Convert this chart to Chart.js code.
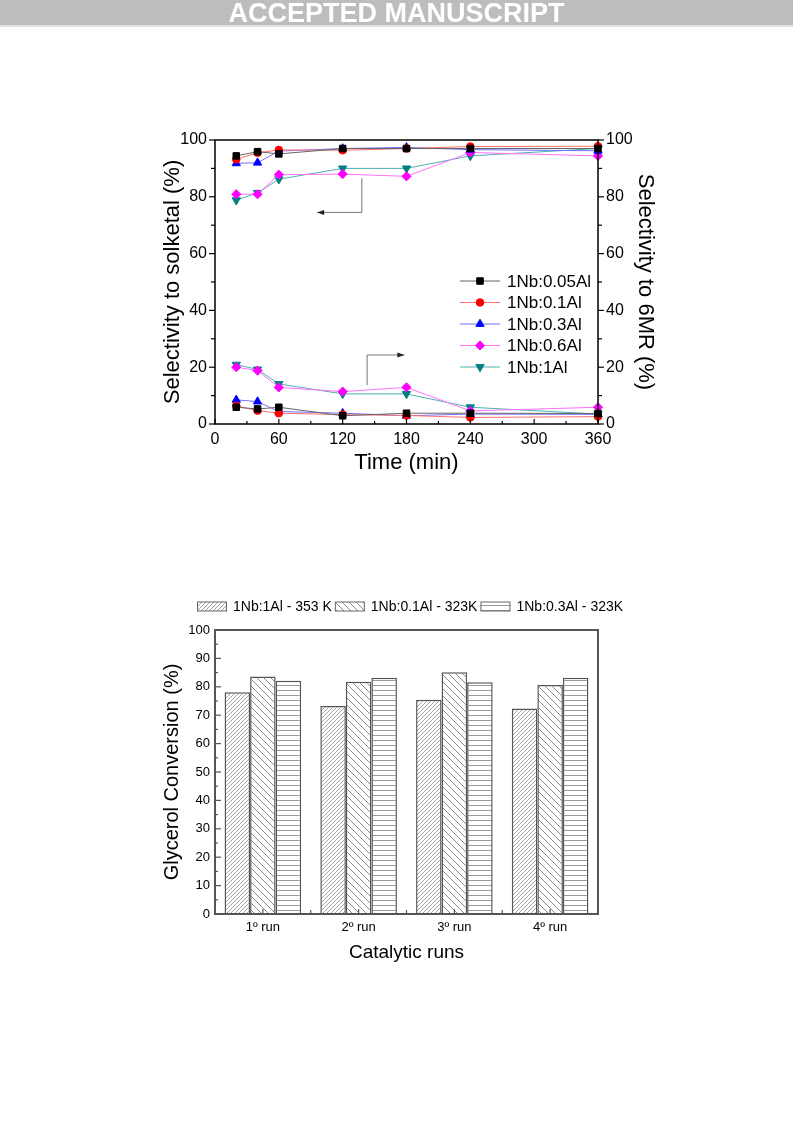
<!DOCTYPE html>
<html><head><meta charset="utf-8">
<script src="https://cdn.jsdelivr.net/npm/chart.js@4.4.1/dist/chart.umd.min.js"></script>
<style>
html,body{margin:0;padding:0;background:#fff;width:793px;height:1121px;overflow:hidden;}
#banner{position:absolute;left:0;top:0;width:793px;height:25px;background:#bdbdbd;border-bottom:2px solid #e2e2e2;text-align:center;font:bold 27px 'Liberation Sans',Arial,sans-serif;color:#fff;line-height:26px;z-index:5;}
#c1{position:absolute;left:0;top:0;}
#c2{position:absolute;left:0;top:540px;}
</style></head>
<body>
<div id="banner">ACCEPTED MANUSCRIPT</div>
<canvas id="c1" width="793" height="520"></canvas>
<canvas id="c2" width="793" height="460"></canvas>
<script>
// ---------- Data: top chart ----------
const times = [20, 40, 60, 120, 180, 240, 360];
const timeTicks = [0, 60, 120, 180, 240, 300, 360];
const selTicks = [0, 20, 40, 60, 80, 100];
const seriesNames = ['1Nb:0.05Al', '1Nb:0.1Al', '1Nb:0.3Al', '1Nb:0.6Al', '1Nb:1Al'];
// selectivity to solketal (left axis)
const solk_005 = [94.4, 95.9, 95.1, 97.0, 97.0, 97.0, 97.0];
const solk_01  = [93.2, 95.5, 96.5, 96.4, 97.0, 97.7, 97.8];
const solk_03  = [91.8, 92.0, 96.1, 97.0, 97.4, 96.6, 96.2];
const solk_06  = [80.9, 80.9, 87.8, 88.0, 87.2, 95.6, 94.4];
const solk_1   = [78.8, 81.4, 86.2, 90.0, 90.0, 94.4, 97.0];
// selectivity to 6MR (right axis)
const mr_005 = [5.9, 5.3, 5.9, 2.9, 3.8, 3.8, 3.7];
const mr_01  = [6.4, 4.7, 3.8, 3.3, 3.0, 2.3, 2.6];
const mr_03  = [8.5, 7.9, 4.4, 3.8, 2.9, 3.5, 3.4];
const mr_06  = [20.0, 18.8, 12.9, 11.4, 12.9, 4.6, 5.9];
const mr_1   = [20.9, 19.2, 14.1, 10.6, 10.6, 5.9, 3.5];

// ---------- Data: bottom chart ----------
const runs = ['1º run', '2º run', '3º run', '4º run'];
const convTicks = [0, 10, 20, 30, 40, 50, 60, 70, 80, 90, 100];
const barNames = ['1Nb:1Al - 353 K', '1Nb:0.1Al - 323K', '1Nb:0.3Al - 323K'];
const conv_1Al_353  = [78.1, 73.2, 75.4, 72.4];
const conv_01Al_323 = [83.6, 81.8, 85.1, 80.6];
const conv_03Al_323 = [82.1, 83.2, 81.6, 83.2];

// ---------- Styles ----------
const FONT = "'Liberation Sans', Arial, Helvetica, sans-serif";
Chart.defaults.font.family = FONT;
Chart.defaults.color = '#000';

const styles = [
  {mark:'#000000', line:'#666666', style:'rect', rot:0, r:4.6},
  {mark:'#ff0000', line:'#ff7070', style:'circle', rot:0, r:3.8},
  {mark:'#0000ff', line:'#7070ff', style:'triangle', rot:0, r:4.8},
  {mark:'#ff00ff', line:'#ff70ff', style:'rectRot', rot:0, r:4.6},
  {mark:'#008080', line:'#50b0b0', style:'triangle', rot:180, r:4.8}
];
const solkSeries = [solk_005, solk_01, solk_03, solk_06, solk_1];
const mrSeries = [mr_005, mr_01, mr_03, mr_06, mr_1];

function mkDataset(name, vals, st, axis) {
  return {
    label: name, yAxisID: axis,
    data: times.map((t, i) => ({x: t, y: vals[i]})),
    borderColor: st.line, borderWidth: 1,
    pointStyle: st.style, pointRotation: st.rot, pointRadius: st.r,
    pointBackgroundColor: st.mark, pointBorderColor: st.mark, pointBorderWidth: 1,
    tension: 0, clip: false
  };
}
const ds1 = [];
seriesNames.forEach((n, i) => ds1.push(mkDataset(n, solkSeries[i], styles[i], 'y')));
seriesNames.forEach((n, i) => ds1.push(mkDataset(n + ' 6MR', mrSeries[i], styles[i], 'y2')));

// annotation arrows (data units)
const arrows = [
  {axis: 'y',  pts: [[138, 86.5], [138, 74.5], [96, 74.5]]},
  {axis: 'y2', pts: [[143, 13.7], [143, 24.3], [178, 24.3]]}
];

function marker(ctx, style, rot, r, x, y, color) {
  ctx.save();
  ctx.fillStyle = color; ctx.strokeStyle = color; ctx.lineWidth = 1;
  ctx.beginPath();
  if (style === 'rect') {
    const s = r * Math.SQRT1_2; ctx.rect(x - s, y - s, 2 * s, 2 * s);
  } else if (style === 'circle') {
    ctx.arc(x, y, r, 0, Math.PI * 2);
  } else if (style === 'rectRot') {
    ctx.moveTo(x, y - r); ctx.lineTo(x + r, y); ctx.lineTo(x, y + r); ctx.lineTo(x - r, y); ctx.closePath();
  } else if (style === 'triangle') {
    let a = rot * Math.PI / 180;
    for (let k = 0; k < 3; k++) {
      const px = x + Math.sin(a) * r, py = y - Math.cos(a) * r;
      if (k === 0) ctx.moveTo(px, py); else ctx.lineTo(px, py);
      a += 2 * Math.PI / 3;
    }
    ctx.closePath();
  }
  ctx.fill(); ctx.stroke();
  ctx.restore();
}

function seg(ctx, x1, y1, x2, y2) { ctx.beginPath(); ctx.moveTo(x1, y1); ctx.lineTo(x2, y2); ctx.stroke(); }

const deco1 = {
  id: 'deco1',
  afterDraw(chart) {
    const {ctx, chartArea: a, scales} = chart;
    ctx.save();
    ctx.strokeStyle = '#000';
    ctx.lineWidth = 1.2;
    for (let v = 0; v <= 100; v += 10) {
      const y = scales.y.getPixelForValue(v);
      const L = v % 20 === 0 ? 6 : 4;
      seg(ctx, a.left - L, y, a.left, y);
      seg(ctx, a.right, y, a.right + L, y);
    }
    for (let t = 0; t <= 360; t += 30) {
      const x = scales.x.getPixelForValue(t);
      const L = t % 60 === 0 ? 5 : 3;
      seg(ctx, x, a.bottom, x, a.bottom - L);
    }
    ctx.lineWidth = 1.5;
    ctx.strokeRect(a.left, a.top, a.right - a.left, a.bottom - a.top);
    // arrows
    arrows.forEach(ar => {
      const p = ar.pts.map(q => [scales.x.getPixelForValue(q[0]), scales[ar.axis].getPixelForValue(q[1])]);
      ctx.strokeStyle = '#777'; ctx.lineWidth = 1;
      ctx.beginPath(); ctx.moveTo(p[0][0], p[0][1]);
      for (let k = 1; k < p.length; k++) ctx.lineTo(p[k][0], p[k][1]);
      ctx.stroke();
      const e = p[p.length - 1], s = p[p.length - 2];
      const ang = Math.atan2(e[1] - s[1], e[0] - s[0]);
      ctx.fillStyle = '#222';
      ctx.beginPath();
      ctx.moveTo(e[0], e[1]);
      ctx.lineTo(e[0] - 7 * Math.cos(ang) + 2.5 * Math.sin(ang), e[1] - 7 * Math.sin(ang) - 2.5 * Math.cos(ang));
      ctx.lineTo(e[0] - 7 * Math.cos(ang) - 2.5 * Math.sin(ang), e[1] - 7 * Math.sin(ang) + 2.5 * Math.cos(ang));
      ctx.closePath(); ctx.fill();
    });
    // legend
    const lx = a.left + 245, ly = a.top + 141, dy = 21.5;
    ctx.font = '17px ' + FONT; ctx.textBaseline = 'middle'; ctx.textAlign = 'left';
    seriesNames.forEach((n, i) => {
      const y = ly + i * dy, st = styles[i];
      ctx.strokeStyle = st.line; ctx.lineWidth = 1;
      seg(ctx, lx, y, lx + 40, y);
      marker(ctx, st.style, st.rot, st.r, lx + 20, y, st.mark);
      ctx.fillStyle = '#000';
      ctx.fillText(n, lx + 47, y + 1);
    });
    ctx.restore();
  }
};

const tickFont1 = {size: 16, family: FONT};
new Chart(document.getElementById('c1'), {
  type: 'line',
  data: {datasets: ds1},
  options: {
    responsive: false, animation: false, devicePixelRatio: 1,
    layout: {padding: {top: 140, left: 0, right: 0, bottom: 0}},
    plugins: {legend: {display: false}, tooltip: {enabled: false}},
    scales: {
      x: {
        type: 'linear', min: 0, max: 360,
        afterBuildTicks: s => { s.ticks = timeTicks.map(v => ({value: v})); },
        ticks: {font: tickFont1, color: '#000', padding: 6, maxRotation: 0, autoSkip: false},
        grid: {display: false, drawTicks: false}, border: {display: false},
        title: {display: true, text: 'Time (min)', font: {size: 22, family: FONT}, color: '#000', padding: {top: 0, bottom: 44}},
        afterFit: s => { s.height = 96; }
      },
      y: {
        position: 'left', min: 0, max: 100,
        afterBuildTicks: s => { s.ticks = selTicks.map(v => ({value: v})); },
        ticks: {font: tickFont1, color: '#000', padding: 8},
        grid: {display: false, drawTicks: false}, border: {display: false},
        title: {display: true, text: 'Selectivity to solketal (%)', font: {size: 22, family: FONT}, color: '#000', padding: {top: 160, bottom: 0}},
        afterFit: s => { s.width = 215; }
      },
      y2: {
        position: 'right', min: 0, max: 100,
        afterBuildTicks: s => { s.ticks = selTicks.map(v => ({value: v})); },
        ticks: {font: tickFont1, color: '#000', padding: 8},
        grid: {display: false, drawTicks: false}, border: {display: false},
        title: {display: true, text: 'Selectivity to 6MR (%)', font: {size: 22, family: FONT}, color: '#000', padding: {top: 135, bottom: 0}},
        afterFit: s => { s.width = 195; }
      }
    }
  },
  plugins: [deco1]
});

// ---------- bottom chart ----------
function makePattern(kind) {
  const c = document.createElement('canvas');
  const g = c.getContext('2d');
  if (kind === 'fwd') {
    c.width = 4; c.height = 4;
    g.fillStyle = '#fff'; g.fillRect(0, 0, 4, 4);
    g.strokeStyle = '#9a9a9a'; g.lineWidth = 0.9;
    [[0, 4, 4, 0], [-1, 1, 1, -1], [3, 5, 5, 3]].forEach(l => { g.beginPath(); g.moveTo(l[0], l[1]); g.lineTo(l[2], l[3]); g.stroke(); });
  } else if (kind === 'back') {
    c.width = 7; c.height = 7;
    g.fillStyle = '#fff'; g.fillRect(0, 0, 7, 7);
    g.strokeStyle = '#8a8a8a'; g.lineWidth = 1;
    [[0, 0, 7, 7], [-1, 6, 1, 8], [6, -1, 8, 1]].forEach(l => { g.beginPath(); g.moveTo(l[0], l[1]); g.lineTo(l[2], l[3]); g.stroke(); });
  } else {
    c.width = 4; c.height = 5;
    g.fillStyle = '#fff'; g.fillRect(0, 0, 4, 5);
    g.strokeStyle = '#999'; g.lineWidth = 1;
    g.beginPath(); g.moveTo(0, 0.5); g.lineTo(4, 0.5); g.stroke();
  }
  return g.createPattern(c, 'repeat');
}
const ctx2 = document.getElementById('c2').getContext('2d');
const patterns = [makePattern('fwd'), makePattern('back'), makePattern('horiz')];
const barSeries = [conv_1Al_353, conv_01Al_323, conv_03Al_323];

const deco2 = {
  id: 'deco2',
  afterDraw(chart) {
    const {ctx, chartArea: a, scales} = chart;
    ctx.save();
    ctx.strokeStyle = '#555'; ctx.lineWidth = 1.2;
    for (let v = 0; v <= 100; v += 5) {
      const y = scales.y.getPixelForValue(v);
      const L = v % 10 === 0 ? 6 : 3;
      seg(ctx, a.left, y, a.left + L, y);
    }
    for (let i = 0; i < runs.length; i++) {
      const xc = scales.x.getPixelForValue(i);
      seg(ctx, xc, a.bottom, xc, a.bottom - 5);
      if (i < runs.length - 1) {
        const xb = scales.x.getPixelForValue(i + 0.5);
        seg(ctx, xb, a.bottom, xb, a.bottom - 4);
      }
    }
    ctx.lineWidth = 2;
    ctx.strokeRect(a.left, a.top, a.right - a.left, a.bottom - a.top);
    // legend
    ctx.font = '14px ' + FONT; ctx.textBaseline = 'middle'; ctx.textAlign = 'left';
    let x = a.left - 18;
    const y = a.top - 23.5;
    barNames.forEach((n, i) => {
      ctx.fillStyle = patterns[i];
      ctx.fillRect(x, y - 4.5, 30, 9);
      ctx.strokeStyle = '#666'; ctx.lineWidth = 1;
      ctx.strokeRect(x + 0.5, y - 4.5, 29, 9);
      ctx.fillStyle = '#000';
      ctx.fillText(n, x + 36, y + 0.5);
      x += 36 + ctx.measureText(n).width + 3;
    });
    ctx.restore();
  }
};

new Chart(ctx2, {
  type: 'bar',
  data: {
    labels: runs,
    datasets: barNames.map((n, i) => ({
      label: n, data: barSeries[i],
      backgroundColor: patterns[i], borderColor: '#555', borderWidth: 1.5,
      categoryPercentage: 0.8, barPercentage: 1.0
    }))
  },
  options: {
    responsive: false, animation: false, devicePixelRatio: 1,
    layout: {padding: {top: 90, left: 0, right: 195, bottom: 0}},
    plugins: {legend: {display: false}, tooltip: {enabled: false}},
    scales: {
      x: {
        ticks: {font: {size: 13, family: FONT}, color: '#000', padding: 6},
        grid: {display: false, drawTicks: false}, border: {display: false},
        title: {display: true, text: 'Catalytic runs', font: {size: 19, family: FONT}, color: '#000', padding: {top: 0, bottom: 36}},
        afterFit: s => { s.height = 86; }
      },
      y: {
        min: 0, max: 100,
        afterBuildTicks: s => { s.ticks = convTicks.map(v => ({value: v})); },
        ticks: {font: {size: 13, family: FONT}, color: '#000', padding: 5},
        grid: {display: false, drawTicks: false}, border: {display: false},
        title: {display: true, text: 'Glycerol Conversion (%)', font: {size: 20, family: FONT}, color: '#000', padding: {top: 160, bottom: 0}},
        afterFit: s => { s.width = 215; }
      }
    }
  },
  plugins: [deco2]
});
</script>
</body></html>
